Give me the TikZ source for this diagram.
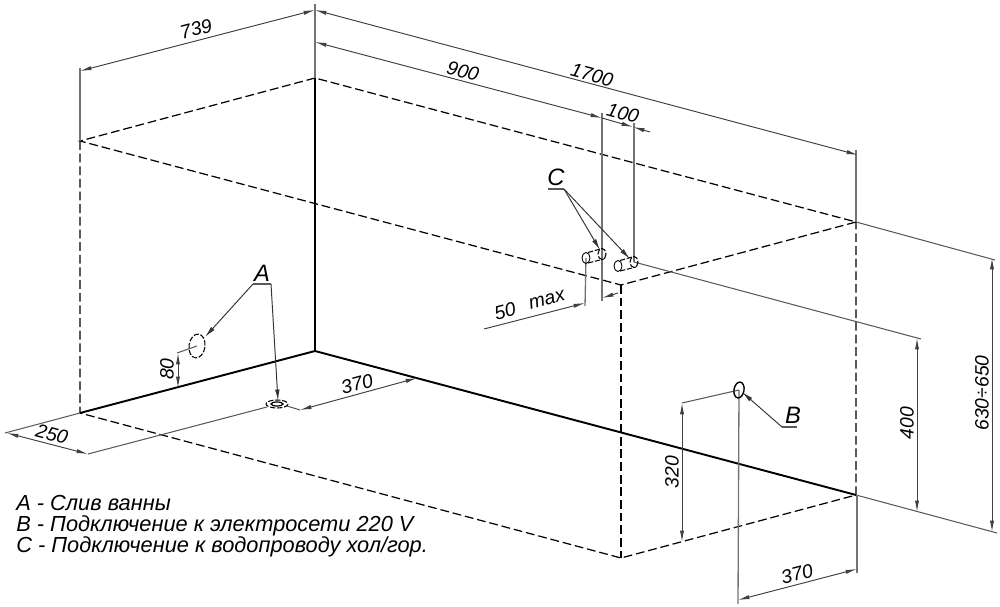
\documentclass[tikz,border=0pt]{standalone}
\usepackage{fontspec}
\setmainfont{Liberation Sans}
\usetikzlibrary{arrows.meta}
\tikzset{
  edgeline/.style={line width=1.1pt, black},
  hiddenline/.style={line width=0.7pt, black, dash pattern=on 5pt off 2.2pt},
  extline/.style={line width=0.75pt, black!55},
  dimline/.style={line width=0.55pt, black!75, {Latex[length=6.5pt,width=2.4pt]}-{Latex[length=6.5pt,width=2.4pt]}},
  dimright/.style={line width=0.55pt, black!75, -{Latex[length=6.5pt,width=2.4pt]}},
  dimleft/.style={line width=0.55pt, black!75, {Latex[length=6.5pt,width=2.4pt]}-},
  leader/.style={line width=0.55pt, black!80, -{Latex[length=6.5pt,width=2.6pt]}},
  shelf/.style={line width=0.6pt, black!65},
  hole/.style={line width=0.6pt, black, dash pattern=on 3pt off 1pt},
  dimtext/.style={font=\itshape\fontsize{11}{13}\selectfont, inner sep=0pt},
  marktext/.style={font=\itshape\fontsize{13.5}{15}\selectfont, inner sep=0pt},
  legendtext/.style={font=\itshape\fontsize{12.4}{14}\selectfont, inner sep=0pt, anchor=base west}
}
\begin{document}
\begin{tikzpicture}[x=0.02cm, y=-0.02cm]
        \useasboundingbox (0,0) rectangle (1000,607);
        % Corners
        \coordinate (backtop) at (315,78);
        \coordinate (backbot) at (315,351);
        \coordinate (lefttop) at (80,141);
        \coordinate (leftbot) at (80,413);
        \coordinate (righttop) at (856,222);
        \coordinate (rightbot) at (856,495);
        \coordinate (fronttop) at (621,285);
        \coordinate (frontbot) at (621,558);
        % Points for the fittings
        \coordinate (pipeA) at (586,258);
        \coordinate (pipeAend) at (602,254);
        \coordinate (pipeB) at (618,266);
        \coordinate (pipeBend) at (634,262);
        \coordinate (socket) at (739,390);
        \coordinate (waste) at (197,346);
        \coordinate (drain) at (277,404);

        % Bath outline
        \draw[edgeline] (backtop) -- (backbot);
        \draw[edgeline] (leftbot) -- (backbot) -- (rightbot);
        \draw[hiddenline] (backtop) -- (lefttop) -- (fronttop) -- (righttop) -- cycle;
        \draw[hiddenline] (lefttop) -- (leftbot) -- (frontbot) -- (rightbot) -- (righttop);
        \draw[hiddenline] (fronttop) -- (frontbot);

        % Extension lines
        \draw[extline] (80,68) -- (lefttop);
        \draw[extline] (315,4) -- (backtop);
        \draw[extline] (856,150) -- (righttop);
        \draw[extline] (602,113) -- (602,301);
        \draw[extline] (634,123) -- (pipeBend);
        \draw[extline] (585,306) -- (pipeA);
        \draw[shelf] (righttop) -- (995,260);
        \draw[shelf] (pipeBend) -- (921,339);
        \draw[shelf] (rightbot) -- (997,533);
        \draw[extline] (857,495) -- (857,573);
        \draw[extline] (738,604) -- (socket);
        \draw[shelf] (682,403) -- (socket);
        \draw[shelf] (177,353) -- (waste);
        \draw[shelf] (leftbot) -- (5,433);
        \draw[shelf] (88,454) -- (267,407);
        \draw[shelf] (287,406) -- (300,410);

        % Top dimensions
        \draw[dimline] (80,71) -- (315,10);
        \node[dimtext, rotate=15] (widthlabel) at (196,29) {739};
        \draw[dimline] (315,10) -- (858,155);
        \node[dimtext, rotate=-15] (lengthlabel) at (592,75) {1700};
        \draw[dimline] (315,42) -- (602,118);
        \node[dimtext, rotate=-15] (ninehundred) at (463,71) {900};
        \draw[dimleft] (633,127) -- (650,132);
        \draw[dimright] (602,118) -- (633,127);
        \node[dimtext, rotate=-15] (hundred) at (623,113) {100};

        % 50 max
        \draw[dimright] (484,329) -- (585,303);
        \draw[dimleft] (602,298) -- (618,293);
        \node[dimtext, rotate=15] (fifty) at (505,311) {50};
        \node[dimtext, rotate=15] (maxlabel) at (547,300) {max};

        % Right dimensions
        \draw[dimline] (917,338) -- (917,512);
        \node[dimtext, rotate=90] (fourhundred) at (907,423) {400};
        \draw[dimline] (992,258) -- (992,532);
        \node[dimtext, rotate=90] (totalheight) at (982,393) {630÷650};
        \draw[dimline] (682,403) -- (682,542);
        \node[dimtext, rotate=90] (threetwenty) at (672,472) {320};
        \draw[dimline] (738,600) -- (857,569);
        \node[dimtext, rotate=15] (socketpos) at (797,574) {370};

        % Left dimensions
        \draw[dimline] (178,353) -- (178,388);
        \node[dimtext, rotate=90] (eighty) at (167,369) {80};
        \draw[dimline] (7,433) -- (88,454);
        \node[dimtext, rotate=-15] (twofifty) at (52,434) {250};
        \draw[dimline] (300,410) -- (417,378);
        \node[dimtext, rotate=15] (drainpos) at (357,384) {370};

        % Fittings
        \draw[hole] (waste) circle[x radius=8, y radius=12, rotate=-8];
        \draw[line width=0.7pt] (drain) circle[x radius=6, y radius=2];
        \draw[hole] (drain) circle[x radius=11, y radius=4];
        \draw[line width=0.8pt] (socket) circle[x radius=5, y radius=8, rotate=-10];
        \draw[line width=0.5pt] (pipeA) circle[x radius=4, y radius=5.5];
        \draw[hole] (pipeAend) circle[x radius=4, y radius=5.5];
        \draw[hole] (588,252.5) -- (602,248.5);
        \draw[hole] (588,263) -- (604,259);
        \draw[line width=0.5pt] (pipeB) circle[x radius=4, y radius=5.5];
        \draw[hole] (pipeBend) circle[x radius=4, y radius=5.5];
        \draw[hole] (620,260.5) -- (634,256.5);
        \draw[hole] (620,271) -- (636,267);

        % Leaders
        \node[marktext] (markA) at (262,273) {A};
        \draw[shelf] (253,284) -- (271,284);
        \draw[leader] (253,284) -- (205,337);
        \draw[leader] (271,284) -- (278,401);
        \node[marktext] (markB) at (793,415) {B};
        \draw[shelf] (782,427) -- (797,427);
        \draw[leader] (782,427) -- (742,392);
        \node[marktext] (markC) at (556,177) {C};
        \draw[shelf] (548,189) -- (564,189);
        \draw[leader] (564,189) -- (600,250);
        \draw[leader] (564,189) -- (630,259);

        % Legend
        \node[legendtext] (legendA) at (16,510) {A - Слив ванны};
        \node[legendtext] (legendB) at (16,531) {B - Подключение к электросети 220 V};
        \node[legendtext] (legendC) at (16,552) {C - Подключение к водопроводу хол/гор.};
\end{tikzpicture}
\end{document}
